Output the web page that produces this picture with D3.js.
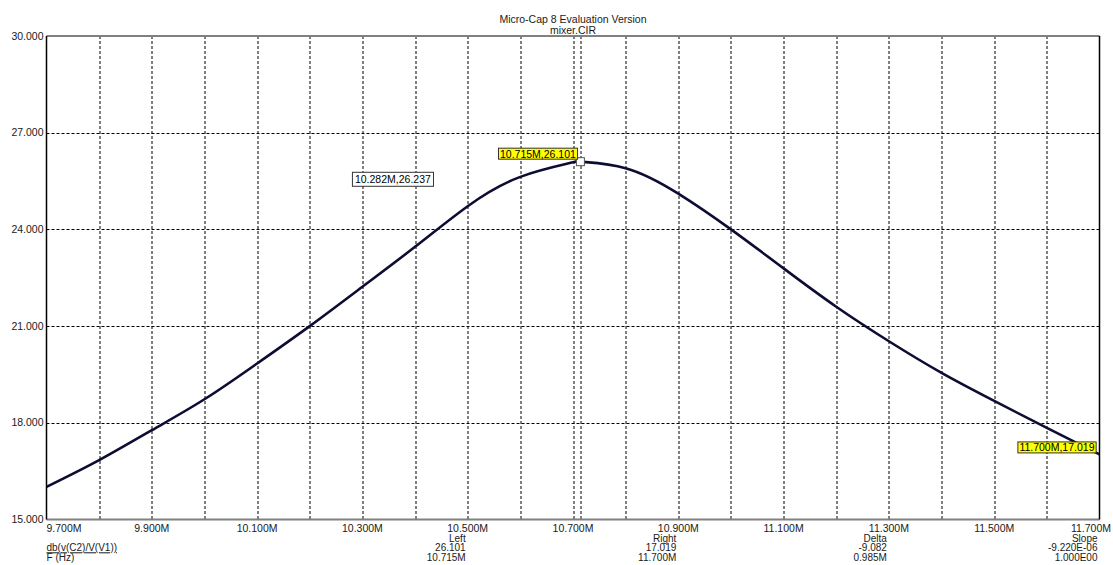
<!DOCTYPE html>
<html>
<head>
<meta charset="utf-8">
<script src="https://cdn.jsdelivr.net/npm/d3@7"></script>
<style>
body { margin: 0; background: #fff; }
text { font-family: "Liberation Sans", Arial, sans-serif; font-size: 10.5px; fill: #1a1a1a; }
text.ro { font-size: 10px; }
</style>
</head>
<body>
<div id="vis"></div>
<script>
// curve: frequency (MHz) and gain (dB)
var freqs = [9.7, 9.8, 9.9, 10.0, 10.1, 10.2, 10.3, 10.4, 10.5, 10.6, 10.7, 10.715, 10.8, 10.9, 11.0, 11.1, 11.2, 11.3, 11.4, 11.5, 11.6, 11.7];
var gains = [16.01, 16.84, 17.77, 18.73, 19.84, 21.00, 22.22, 23.46, 24.72, 25.63, 26.08, 26.101, 25.90, 25.11, 24.00, 22.79, 21.60, 20.53, 19.55, 18.68, 17.84, 17.019];

var yTicks = [15, 18, 21, 24, 27, 30];
var xLabelValues = [9.7, 9.9, 10.1, 10.3, 10.5, 10.7, 10.9, 11.1, 11.3, 11.5, 11.7];
var xLabels = ['9.700M', '9.900M', '10.100M', '10.300M', '10.500M', '10.700M', '10.900M', '11.100M', '11.300M', '11.500M', '11.700M'];

var cursorF = [10.715, 11.7];
var cursorV = [26.101, 17.019];
var cursorText = ['10.715M,26.101', '11.700M,17.019'];

var noteF = 10.282, noteV = 26.237, noteText = '10.282M,26.237';

var readoutAt = [10.5, 10.9, 11.3, 11.7];
var readoutHead = ['Left', 'Right', 'Delta', 'Slope'];
var readoutY = ['26.101', '17.019', '-9.082', '-9.220E-06'];
var readoutX = ['10.715M', '11.700M', '0.985M', '1.000E00'];

var W = 1113, H = 565;
var margin = {left: 46.5, right: 13.5, top: 36, bottom: 45.5};
var width = W - margin.left - margin.right;
var height = H - margin.top - margin.bottom;

var svg = d3.select('#vis')
    .append('svg')
        .attr('width', W)
        .attr('height', H)
    .append('g')
        .attr('transform', 'translate(' + margin.left + ',' + margin.top + ')');

var x = d3.scaleLinear().domain([9.7, 11.7]).range([0, width]);
var y = d3.scaleLinear().domain([15, 30]).range([height, 0]);

// title
svg.append('text').attr('x', width / 2).attr('y', -13).attr('text-anchor', 'middle').text('Micro-Cap 8 Evaluation Version');
svg.append('text').attr('x', width / 2).attr('y', -2).attr('text-anchor', 'middle').text('mixer.CIR');

// grid
var dash = '3,2';
svg.append('g')
    .selectAll('line')
    .data(x.ticks(20).slice(1, -1))
    .enter()
    .append('line')
        .attr('x1', d => Math.round(x(d)) + 0.5)
        .attr('x2', d => Math.round(x(d)) + 0.5)
        .attr('y1', 0).attr('y2', height)
        .attr('stroke', '#000').attr('stroke-dasharray', dash);

svg.append('g')
    .selectAll('line')
    .data(yTicks.slice(1, -1))
    .enter()
    .append('line')
        .attr('y1', d => Math.round(y(d)) + 0.5)
        .attr('y2', d => Math.round(y(d)) + 0.5)
        .attr('x1', 0).attr('x2', width)
        .attr('stroke', '#000').attr('stroke-dasharray', dash);

// left cursor line
svg.append('line')
    .attr('x1', Math.round(x(cursorF[0])) + 0.5)
    .attr('x2', Math.round(x(cursorF[0])) + 0.5)
    .attr('y1', 0).attr('y2', height)
    .attr('stroke', '#000').attr('stroke-dasharray', dash);

// y labels
svg.append('g')
    .selectAll('text')
    .data(yTicks)
    .enter()
    .append('text')
        .attr('x', -3)
        .attr('y', d => y(d) + 3.5)
        .attr('text-anchor', 'end')
        .text(d => d.toFixed(3));

// x labels
svg.append('g')
    .selectAll('text')
    .data(xLabelValues)
    .enter()
    .append('text')
        .attr('x', (d, i) => i == xLabelValues.length - 1 ? x(d) + 11.5 : x(d))
        .attr('y', height + 12)
        .attr('text-anchor', (d, i) => i == 0 ? 'start' : i == xLabelValues.length - 1 ? 'end' : 'middle')
        .text((d, i) => xLabels[i]);

// readouts
var rows = [readoutHead, readoutY, readoutX];
rows.forEach(function(row, r) {
    svg.append('g')
        .selectAll('text')
        .data(row)
        .enter()
        .append('text')
            .attr('class', 'ro')
            .attr('x', (d, i) => x(readoutAt[i]) - 2)
            .attr('y', height + 22 + r * 9.8)
            .attr('text-anchor', 'end')
            .text(d => d);
});
svg.append('text').attr('class', 'ro').attr('x', 0).attr('y', height + 31.8).attr('text-decoration', 'underline').text('db(v(C2)/V(V1))');
svg.append('text').attr('class', 'ro').attr('x', 0).attr('y', height + 41.6).text('F (Hz)');

// curve
var line = d3.line()
    .x((d, i) => x(freqs[i]))
    .y(d => y(d))
    .curve(d3.curveNatural);

svg.append('path')
    .datum(gains)
    .attr('d', line)
    .attr('fill', 'none')
    .attr('stroke', '#0d0d33')
    .attr('stroke-width', 2.6);

// frame
svg.append('line').attr('x1', 0).attr('x2', width).attr('y1', 0).attr('y2', 0).attr('stroke', '#808080').attr('stroke-width', 2);
svg.append('line').attr('x1', 0).attr('x2', width).attr('y1', height).attr('y2', height).attr('stroke', '#808080').attr('stroke-width', 2);
svg.append('line').attr('x1', 0).attr('x2', 0).attr('y1', 0).attr('y2', height).attr('stroke', '#000').attr('stroke-width', 1.5);
svg.append('line').attr('x1', width).attr('x2', width).attr('y1', 0).attr('y2', height).attr('stroke', '#000').attr('stroke-width', 1.5);

// cursor markers and labels
svg.append('rect')
    .attr('x', x(cursorF[0]) - 4.5).attr('y', y(cursorV[0]) - 4)
    .attr('width', 8).attr('height', 8)
    .attr('fill', '#fff').attr('stroke', '#555');

cursorF.forEach(function(f, i) {
    var g = svg.append('g');
    var t = g.append('text')
        .attr('x', x(f) - 5)
        .attr('y', y(cursorV[i]) - 4 - (i == 1 ? -1 : 0))
        .attr('text-anchor', 'end')
        .style('fill', '#000')
        .text(cursorText[i]);
    var b = t.node().getBBox();
    g.insert('rect', 'text')
        .attr('x', b.x - 1.5).attr('y', b.y + 0.5)
        .attr('width', b.width + 3).attr('height', b.height - 1)
        .attr('fill', '#ffff00').attr('stroke', '#333');
});

// free text note
var ng = svg.append('g');
var nt = ng.append('text')
    .attr('x', x(noteF) + 2)
    .attr('y', y(noteV) + 26)
    .style('fill', '#000')
    .text(noteText);
var nb = nt.node().getBBox();
ng.insert('rect', 'text')
    .attr('x', nb.x - 2.5).attr('y', nb.y - 1)
    .attr('width', nb.width + 5).attr('height', nb.height + 2)
    .attr('fill', '#fff').attr('stroke', '#333');
</script>
</body>
</html>
